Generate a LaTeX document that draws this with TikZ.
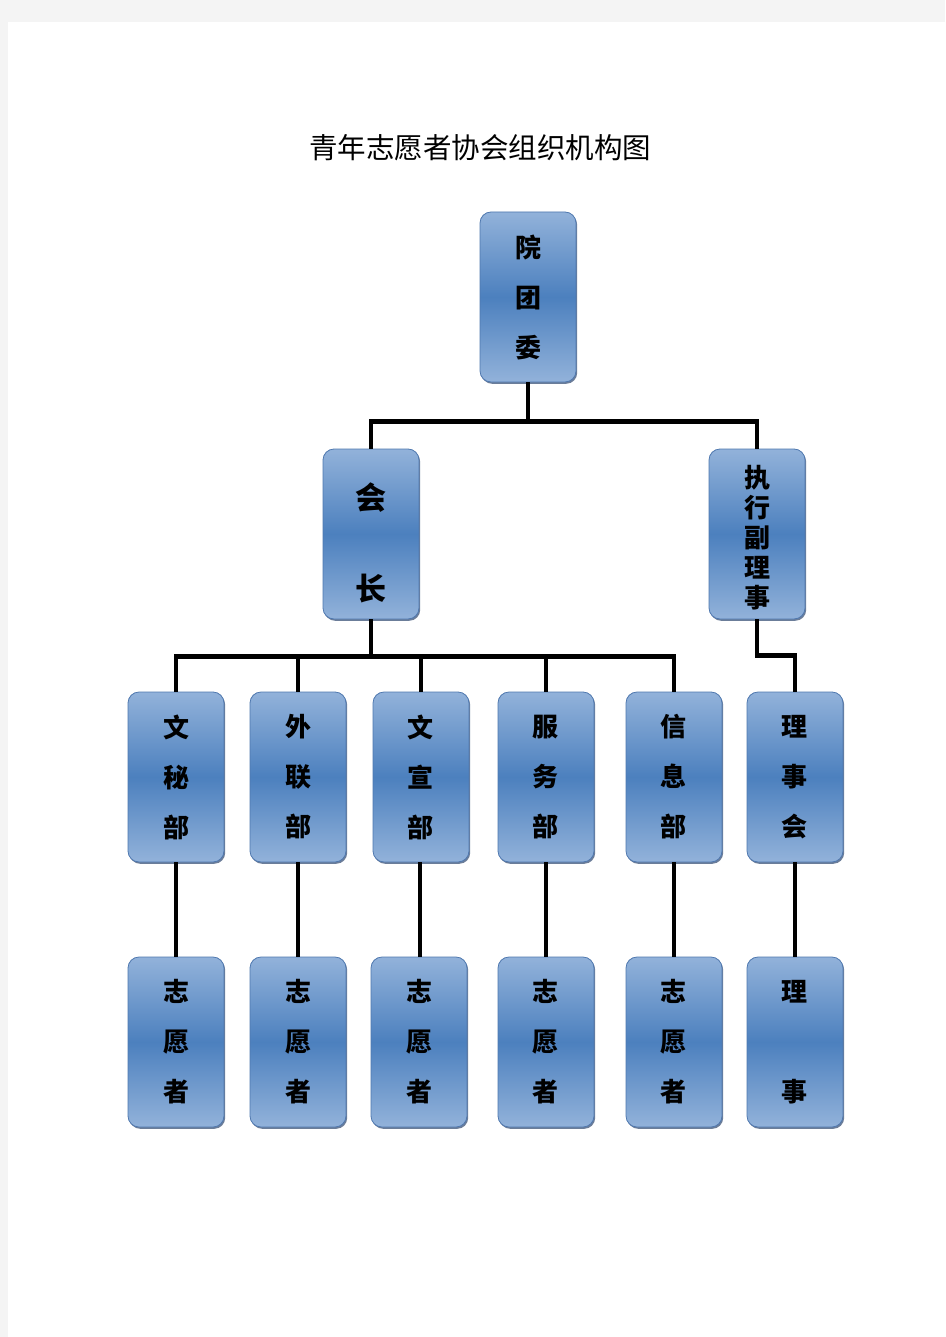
\documentclass[tikz,border=0pt]{standalone}
\usepackage{fontspec}
\newfontfamily\cjk{Noto Sans CJK SC}
\usetikzlibrary{shadows}
\definecolor{boxtop}{RGB}{146,178,218}
\definecolor{boxmid}{RGB}{76,128,190}
\definecolor{boxline}{RGB}{79,120,175}
\definecolor{boxshadow}{RGB}{45,70,110}
\definecolor{pagegray}{RGB}{244,244,244}
\tikzset{
  orgbox/.style={rounded corners=11pt, minimum width=96pt, minimum height=170pt,
    inner sep=0pt, draw=boxline, line width=0.8pt,
    top color=boxtop, bottom color=boxtop, middle color=boxmid,
    drop shadow={shadow xshift=1.2pt, shadow yshift=-1.8pt, fill=boxshadow, opacity=0.7}},
  boxtext/.style={font=\cjk\bfseries\fontsize{26}{50}\selectfont, align=center,
    inner sep=0pt, text=black},
  link/.style={line width=4.6pt, black},
}
\begin{document}
\begin{tikzpicture}[x=1pt, y=-1pt]
\useasboundingbox (0,0) rectangle (945,1337);
\fill[pagegray] (0,0) rectangle (945,1337);
\fill[white] (8,22) rectangle (945,1337);

\node (title) at (480,148) {\cjk\fontsize{28.5}{28.5}\selectfont 青年志愿者协会组织机构图};

% boxes
\node[orgbox] (ytw) at (528,297) {};
\node[orgbox] (hz)  at (371,534) {};
\node[orgbox] (zx)  at (757,534) {};

\node[orgbox] (wm) at (176,777) {};
\node[orgbox] (wl) at (298,777) {};
\node[orgbox] (wx) at (421,777) {};
\node[orgbox] (fw) at (546,777) {};
\node[orgbox] (xx) at (674,777) {};
\node[orgbox] (lsh) at (795,777) {};

\node[orgbox] (v1) at (176,1042) {};
\node[orgbox] (v2) at (298,1042) {};
\node[orgbox] (v3) at (419,1042) {};
\node[orgbox] (v4) at (546,1042) {};
\node[orgbox] (v5) at (674,1042) {};
\node[orgbox] (ls) at (795,1042) {};

% connectors
\draw[link] (ytw.south) -- ++(0,39) -| (hz.north);
\draw[link] (ytw.south) -- ++(0,39) -| (zx.north);

\draw[link] (hz.south) -- ++(0,37) -| (wm.north);
\draw[link] (hz.south) -- ++(0,37) -| (wl.north);
\draw[link] (hz.south) -- ++(0,37) -| (wx.north);
\draw[link] (hz.south) -- ++(0,37) -| (fw.north);
\draw[link] (hz.south) -- ++(0,37) -| (xx.north);

\draw[link] (zx.south) -- ++(0,36) -| (lsh.north);

\draw[link] (wm.south) -- (v1.north);
\draw[link] (wl.south) -- (v2.north);
\draw[link] (wx.south -| 420,0) -- (v3.north -| 420,0);
\draw[link] (fw.south) -- (v4.north);
\draw[link] (xx.south) -- (v5.north);
\draw[link] (lsh.south) -- (ls.north);

% texts
\node[boxtext] (t-ytw) at (528,297) {院\\团\\委};
\node[boxtext, font=\cjk\bfseries\fontsize{31}{50}\selectfont] (t-hz) at (371,542.5) {会\\[41pt]长};
\node[boxtext, font=\cjk\bfseries\fontsize{26}{30}\selectfont] (t-zx) at (757,538) {执\\行\\副\\理\\事};
\node[boxtext] (t-wm) at (176,777) {文\\秘\\部};
\node[boxtext] (t-wl) at (298,777) {外\\联\\部};
\node[boxtext] (t-wx) at (420,777) {文\\宣\\部};
\node[boxtext] (t-fw) at (545,777) {服\\务\\部};
\node[boxtext] (t-xx) at (673,777) {信\\息\\部};
\node[boxtext] (t-lsh) at (794,777) {理\\事\\会};
\node[boxtext] (t-v1) at (176,1042) {志\\愿\\者};
\node[boxtext] (t-v2) at (298,1042) {志\\愿\\者};
\node[boxtext] (t-v3) at (419,1042) {志\\愿\\者};
\node[boxtext] (t-v4) at (545,1042) {志\\愿\\者};
\node[boxtext] (t-v5) at (673,1042) {志\\愿\\者};
\node[boxtext] (t-ls) at (794,1042) {理\\[50pt]事};
\end{tikzpicture}
\end{document}
